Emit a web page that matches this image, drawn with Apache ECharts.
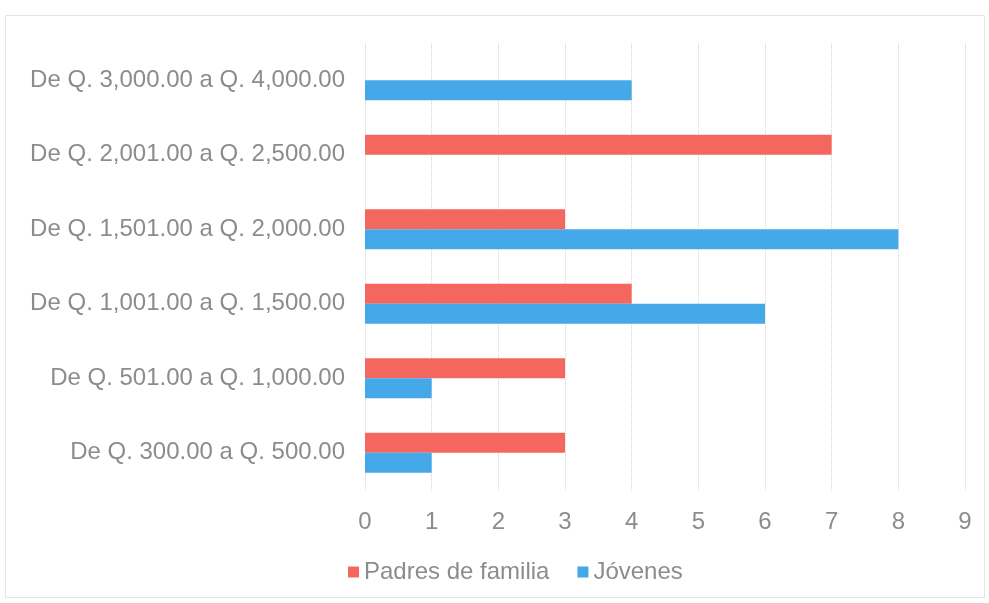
<!DOCTYPE html>
<html><head><meta charset="utf-8">
<script src="https://cdn.jsdelivr.net/npm/echarts@6/dist/echarts.min.js"></script>
<style>html,body{margin:0;padding:0;background:#fff}#c{width:989px;height:603px}</style>
</head><body><div id="c"></div>
<script>
const categories = ["De Q. 300.00 a Q. 500.00","De Q. 501.00 a Q. 1,000.00","De Q. 1,001.00 a Q. 1,500.00","De Q. 1,501.00 a Q. 2,000.00","De Q. 2,001.00 a Q. 2,500.00","De Q. 3,000.00 a Q. 4,000.00"];
const padres = [3, 3, 4, 3, 7, null];
const jovenes = [1, 1, 6, 8, null, 4];
const seriesNames = ["Padres de familia","Jóvenes"];
const chart = echarts.init(document.getElementById('c'));
const txt = '#8c8c8c';
const ff = 'Liberation Sans, Arial';
chart.setOption({
  animation:false,
  graphic:[{type:'rect',shape:{x:5.5,y:15.5,width:979,height:582},style:{fill:'none',stroke:'#e4e4e4',lineWidth:1}}],
  grid:{left:365,right:24,top:43,bottom:113,containLabel:false},
  legend:{bottom:14,left:343,itemWidth:11,itemHeight:11,itemGap:28,icon:'rect',
    textStyle:{color:txt,fontSize:24,fontFamily:ff},data:seriesNames},
  xAxis:{type:'value',min:0,max:9,interval:1,
    axisLine:{show:false},axisTick:{show:false},
    splitLine:{lineStyle:{color:'#d4d4d4',type:'dotted'}},
    axisLabel:{color:txt,fontSize:24,margin:20,fontFamily:ff}},
  yAxis:{type:'category',data:categories,
    axisLine:{show:false},axisTick:{show:false},
    axisLabel:{color:txt,fontSize:24,margin:20,fontFamily:ff}},
  series:[
    {name:seriesNames[0],type:'bar',data:padres,barWidth:20,barGap:'0%',itemStyle:{color:'#f4675f'}},
    {name:seriesNames[1],type:'bar',data:jovenes,barWidth:20,barGap:'0%',itemStyle:{color:'#45a8e8'}}
  ]
});
</script></body></html>
